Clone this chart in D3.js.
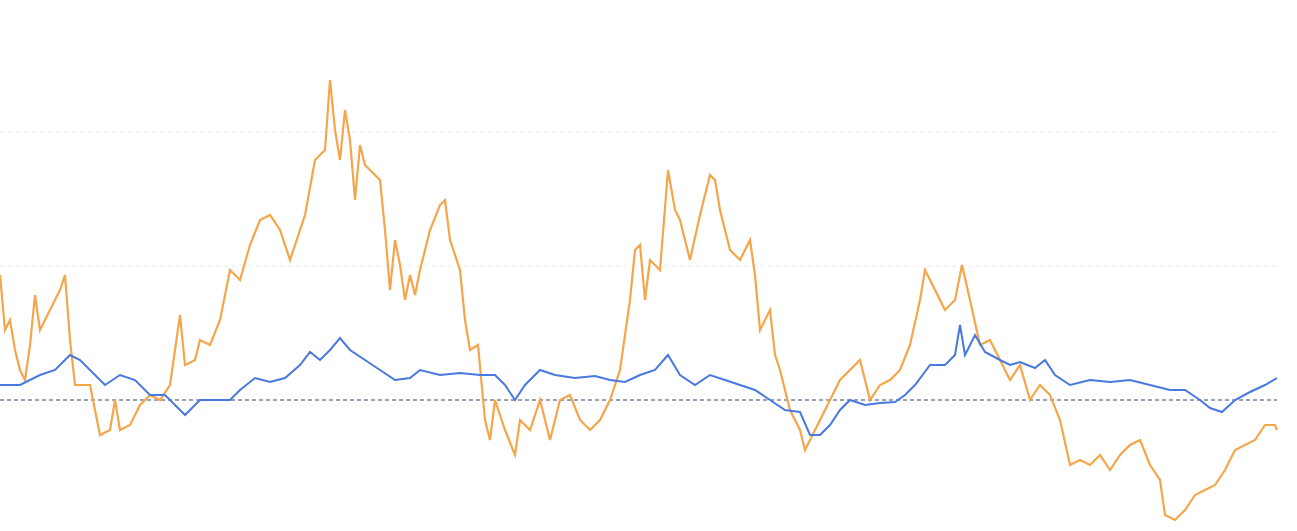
<html>
<head>
<script src="https://cdnjs.cloudflare.com/ajax/libs/d3/7.8.5/d3.min.js"></script>
</head>
<body style="margin: 0 0 0 0; background: #fff;">
<svg id="chart"></svg>
<script type="text/javascript">

var W = 1297, H = 531

// orange series: [t, value]
var orangeT = [0,5,10,15,20,25,30,35,40,45,50,55,60,65,70,75,80,90,100,110,115,120,130,140,150,160,170,180,185,195,200,210,220,230,240,250,260,270,280,290,300,305,315,325,330,335,340,345,350,355,360,365,375,380,385,390,395,400,405,410,415,420,430,440,445,450,460,465,470,478,485,490,495,505,515,520,530,540,550,560,570,580,590,600,610,620,630,635,640,645,650,660,668,675,680,690,700,710,715,720,730,740,750,755,760,770,775,780,790,800,805,810,820,830,840,850,860,870,880,890,900,910,920,925,935,945,955,962,970,980,990,1000,1010,1020,1030,1040,1050,1060,1070,1080,1090,1100,1110,1120,1130,1140,1150,1160,1165,1175,1185,1195,1205,1215,1225,1235,1245,1255,1265,1275,1277]
var orangeY = [275,330,320,350,370,380,345,295,330,320,310,300,290,275,340,385,385,385,435,430,400,430,425,405,395,400,385,315,365,360,340,345,320,270,280,245,220,215,230,260,230,215,160,150,80,130,160,110,140,200,145,165,175,180,230,290,240,265,300,275,295,270,230,205,200,240,270,320,350,345,420,440,400,430,455,420,430,400,440,400,395,420,430,420,400,370,300,250,245,300,260,270,170,210,220,260,215,175,180,210,250,260,240,275,330,310,355,370,410,430,450,440,420,400,380,370,360,400,385,380,370,345,300,270,290,310,300,265,300,345,340,360,380,365,400,385,395,420,465,460,465,455,470,455,445,440,465,480,515,520,510,495,490,485,470,450,445,440,425,425,430]

var blueT = [0,20,40,55,70,80,95,105,120,135,150,165,175,185,200,215,230,240,255,270,285,300,310,320,330,340,350,365,380,395,410,420,440,460,480,495,505,515,525,540,555,575,595,610,625,640,655,668,680,695,710,725,740,755,770,785,800,810,820,830,840,850,865,880,895,905,915,930,945,955,960,965,975,985,1000,1010,1020,1035,1045,1055,1070,1090,1110,1130,1150,1170,1185,1200,1210,1222,1235,1250,1265,1277]
var blueY = [385,385,375,370,355,360,375,385,375,380,395,395,405,415,400,400,400,390,378,382,378,365,352,360,350,338,350,360,370,380,378,370,375,373,375,375,385,400,385,370,375,378,376,380,382,375,370,355,375,385,375,380,385,390,400,410,412,435,435,425,410,400,405,403,402,395,385,365,365,355,325,355,335,352,360,365,362,368,360,375,385,380,382,380,385,390,390,400,408,412,400,392,385,378]

var gridValues = [1, 2]

function toVal(py) { return (400 - py) / 134 }
var orange = orangeT.map(function(t, i) { return [t, toVal(orangeY[i])] })
var blue = blueT.map(function(t, i) { return [t, toVal(blueY[i])] })

var svg = d3.select("#chart").attr("width", W).attr("height", H)

var x = d3.scaleLinear().domain([0, 1277]).range([0, 1277])
var y = d3.scaleLinear().domain([0, 1]).range([400, 266])

svg.selectAll("line.grid").data(gridValues).enter().append("line")
  .attr("x1", 0).attr("x2", 1277)
  .attr("y1", function(d) { return y(d) }).attr("y2", function(d) { return y(d) })
  .attr("stroke", "#ececec").attr("stroke-dasharray", "4,4")

svg.append("line")
  .attr("x1", 0).attr("x2", 1277).attr("y1", y(0)).attr("y2", y(0))
  .attr("stroke", "#34466a").attr("stroke-dasharray", "4,3").attr("stroke-width", 1)

var line = d3.line().x(function(d) { return x(d[0]) }).y(function(d) { return y(d[1]) })

svg.append("path").datum(orange).attr("d", line)
  .attr("fill", "none").attr("stroke", "#f5a54a").attr("stroke-width", 2.2)
svg.append("path").datum(blue).attr("d", line)
  .attr("fill", "none").attr("stroke", "#4878e0").attr("stroke-width", 2)

</script>
</body>
</html>
